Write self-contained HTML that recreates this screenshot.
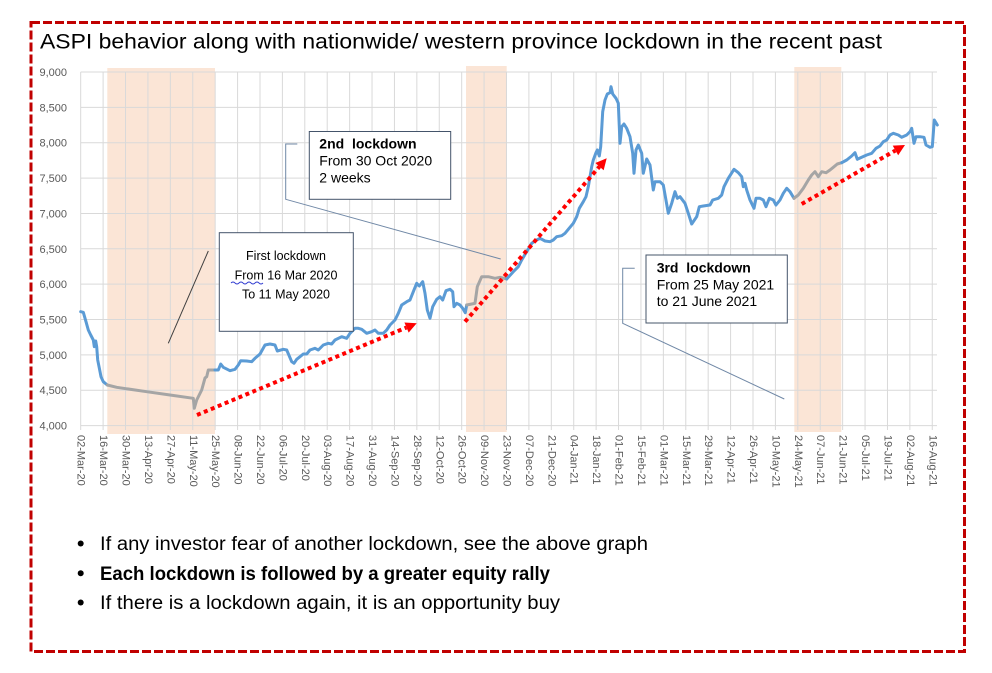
<!DOCTYPE html>
<html>
<head>
<meta charset="utf-8">
<style>
html,body{margin:0;padding:0;background:#fff;}
svg{display:block;}
text{font-family:"Liberation Sans",Arial,sans-serif;}
</style>
</head>
<body>
<svg width="992" height="673" viewBox="0 0 992 673" xmlns="http://www.w3.org/2000/svg">
<rect x="0" y="0" width="992" height="673" fill="#fff"/>

<!-- lockdown shading -->
<rect x="107.3" y="68" width="107.7" height="366" fill="#FBE5D6"/>
<rect x="466" y="66" width="40.7" height="366" fill="#FBE5D6"/>
<rect x="794.3" y="67" width="47" height="365" fill="#FBE5D6"/>

<!-- gridlines -->
<g stroke="#D9D9D9" stroke-width="1" fill="none">
<path d="M80.7 72H937M80.7 107.36H937M80.7 142.72H937M80.7 178.08H937M80.7 213.44H937M80.7 248.8H937M80.7 284.16H937M80.7 319.52H937M80.7 354.88H937M80.7 390.24H937M80.7 425.6H937"/>
<path d="M80.7 72V430M103.11 72V430M125.52 72V430M147.93 72V430M170.34 72V430M192.75 72V430M215.16 72V430M237.57 72V430M259.98 72V430M282.39 72V430M304.8 72V430M327.21 72V430M349.62 72V430M372.03 72V430M394.44 72V430M416.85 72V430M439.26 72V430M461.67 72V430M484.08 72V430M506.49 72V430M528.9 72V430M551.31 72V430M573.72 72V430M596.13 72V430M618.54 72V430M640.95 72V430M663.36 72V430M685.77 72V430M708.18 72V430M730.59 72V430M753 72V430M775.41 72V430M797.82 72V430M820.23 72V430M842.64 72V430M865.05 72V430M887.46 72V430M909.87 72V430M932.28 72V430"/>
</g>

<!-- y labels -->
<g font-size="11" fill="#595959" text-anchor="end">
<text x="67" y="76">9,000</text>
<text x="67" y="111.4">8,500</text>
<text x="67" y="146.7">8,000</text>
<text x="67" y="182.1">7,500</text>
<text x="67" y="217.4">7,000</text>
<text x="67" y="252.8">6,500</text>
<text x="67" y="288.2">6,000</text>
<text x="67" y="323.5">5,500</text>
<text x="67" y="358.9">5,000</text>
<text x="67" y="394.2">4,500</text>
<text x="67" y="429.6">4,000</text>
</g>

<!-- x labels -->
<g font-size="11" fill="#595959" dominant-baseline="central">
<text transform="translate(80.7,435) rotate(90)">02-Mar-20</text>
<text transform="translate(103.11,435) rotate(90)">16-Mar-20</text>
<text transform="translate(125.52,435) rotate(90)">30-Mar-20</text>
<text transform="translate(147.93,435) rotate(90)">13-Apr-20</text>
<text transform="translate(170.34,435) rotate(90)">27-Apr-20</text>
<text transform="translate(192.75,435) rotate(90)">11-May-20</text>
<text transform="translate(215.16,435) rotate(90)">25-May-20</text>
<text transform="translate(237.57,435) rotate(90)">08-Jun-20</text>
<text transform="translate(259.98,435) rotate(90)">22-Jun-20</text>
<text transform="translate(282.39,435) rotate(90)">06-Jul-20</text>
<text transform="translate(304.8,435) rotate(90)">20-Jul-20</text>
<text transform="translate(327.21,435) rotate(90)">03-Aug-20</text>
<text transform="translate(349.62,435) rotate(90)">17-Aug-20</text>
<text transform="translate(372.03,435) rotate(90)">31-Aug-20</text>
<text transform="translate(394.44,435) rotate(90)">14-Sep-20</text>
<text transform="translate(416.85,435) rotate(90)">28-Sep-20</text>
<text transform="translate(439.26,435) rotate(90)">12-Oct-20</text>
<text transform="translate(461.67,435) rotate(90)">26-Oct-20</text>
<text transform="translate(484.08,435) rotate(90)">09-Nov-20</text>
<text transform="translate(506.49,435) rotate(90)">23-Nov-20</text>
<text transform="translate(528.9,435) rotate(90)">07-Dec-20</text>
<text transform="translate(551.31,435) rotate(90)">21-Dec-20</text>
<text transform="translate(573.72,435) rotate(90)">04-Jan-21</text>
<text transform="translate(596.13,435) rotate(90)">18-Jan-21</text>
<text transform="translate(618.54,435) rotate(90)">01-Feb-21</text>
<text transform="translate(640.95,435) rotate(90)">15-Feb-21</text>
<text transform="translate(663.36,435) rotate(90)">01-Mar-21</text>
<text transform="translate(685.77,435) rotate(90)">15-Mar-21</text>
<text transform="translate(708.18,435) rotate(90)">29-Mar-21</text>
<text transform="translate(730.59,435) rotate(90)">12-Apr-21</text>
<text transform="translate(753,435) rotate(90)">26-Apr-21</text>
<text transform="translate(775.41,435) rotate(90)">10-May-21</text>
<text transform="translate(797.82,435) rotate(90)">24-May-21</text>
<text transform="translate(820.23,435) rotate(90)">07-Jun-21</text>
<text transform="translate(842.64,435) rotate(90)">21-Jun-21</text>
<text transform="translate(865.05,435) rotate(90)">05-Jul-21</text>
<text transform="translate(887.46,435) rotate(90)">19-Jul-21</text>
<text transform="translate(909.87,435) rotate(90)">02-Aug-21</text>
<text transform="translate(932.28,435) rotate(90)">16-Aug-21</text>
</g>

<!-- series -->
<g fill="none" stroke-width="3" stroke-linejoin="round" stroke-linecap="round">
<polyline stroke="#5B9BD5" points="80.7,311.7 83.3,312.3 86,321.7 88.3,330 90.7,335 93.3,340 94.3,346.7 95.7,341 96.7,346.7 97.7,360 99.3,368 101,376.7 103.3,381.7 107.3,385"/>
<polyline stroke="#A5A5A5" points="107.3,385 116.7,387.3 146.7,391.7 170,395 193.3,398.3 194.3,408.3 196.7,400 201.7,390 205,378 206.7,376.7 208.3,370 211.7,370 215,370"/>
<polyline stroke="#5B9BD5" points="215,370 218.3,370 220.7,364 223.3,367.3 230,370.7 235,369.3 238.3,365 240.7,360.7 246.7,361 251.7,361.7 255,358.3 260,354 265,345 270,344 275,345 277.3,351 283.3,349.3 286.7,350 291.7,361.7 294,363.3 296.7,359.3 300,356.7 303.3,354 306.7,354 310,350 315,348.3 318.3,350 323.3,345 328.3,343.3 331.7,344 335,340 341.7,336.7 346.7,338.3 350,333.3 355,328.3 358.3,328.3 361.7,329.3 366.7,333.3 371.7,331.7 375,330 378.3,333.3 383.3,333.3 386.7,330 390,325 395,320 398.3,313.3 401.7,305 406.7,301.7 410,300 413.3,291.7 416.7,283.3 419.3,286 422.7,281.7 425,293.3 427.3,310 430,318.3 432.7,306.7 436.7,299.3 440,296.7 442.7,300 446,290.7 450,289.3 452.7,291.7 454,306.7 456.7,303.3 460,305 462.7,308.3 465.3,312.7 466.7,305"/>
<polyline stroke="#A5A5A5" points="466.7,305 471.7,304 475,303.3 477.3,286.7 481.7,276.7 488.3,276.7 495,278.3 500,277.3 506.7,279"/>
<polyline stroke="#5B9BD5" points="506.7,279 513.3,271.7 518.3,266.7 521.7,260 526.7,251.7 531.7,243.3 536.7,240 540,238.3 545,241 550,241.7 553.3,240 556.7,236.7 561.7,235.7 565,233.3 568.3,229.3 573.3,223.3 576.7,216.7 579.3,208.3 583.3,201.7 586,196.7 588.3,186.7 590,176.7 591.7,166.7 593.3,160 596,152.7 597.3,150 599.3,156 600.7,146.7 602.7,111.7 605,100 607.3,94 610,92.7 611,86.7 612.7,94 616,98.3 618.3,103.3 620,143.3 621.7,126.7 624,124 626.7,128.3 630,136.7 632.7,153.3 634,173.3 636,150 638.3,145 641.7,153.3 643.3,173.3 646.7,159 650,165 653.3,190 655,181.7 660,181.7 663.3,185 668.3,213.3 671.7,203.3 675,191.7 677.3,198.3 680,196.7 685,203.3 688.3,213.3 691.7,224 696.7,216.7 699.3,206.7 703.3,206 710,205 712.7,200 718.3,198.3 721.7,195 724,186.7 728.3,178.3 734,169.3 738.3,172.7 741.7,176.7 743.3,186.7 745,183.3 746.7,190 750,200 754,208.3 756,198.3 760,198.3 763.3,200 766,206.7 769.3,198.3 773.3,200 776,205 780,200 783.3,193.3 786.7,188.3 790,191.7 794,198.3"/>
<polyline stroke="#A5A5A5" points="794,198.3 798.3,195 803.3,188.3 808.3,180 811.7,175 815,171.7 818.3,176.7 821.7,171.7 826,172.7 830,170 833.3,167.3 837.3,164 841.7,162.7"/>
<polyline stroke="#5B9BD5" points="841.7,162.7 846.7,160 851.7,156 855,152.7 857.3,159.3 861.7,157.3 866.7,155 871.7,153.3 876,148.3 880,146 883.3,141.7 886.7,140 890,135 893.3,133.3 898.3,135 901.7,137.3 906.7,135 910,131.7 911.7,128.3 914,143.3 916,136.7 920,136.7 924,137.3 926,145 930,147.3 932.3,146.7 934.3,120 937.3,125"/>
</g>

<!-- red dotted arrows -->
<g stroke="#FF0000" stroke-width="4" stroke-dasharray="4 3.5" fill="none">
<line x1="197" y1="415" x2="406.5" y2="327.5"/>
<line x1="465" y1="321.7" x2="599.5" y2="166.6"/>
<line x1="801.7" y1="204" x2="895.4" y2="150.5"/>
</g>
<g fill="#FF0000">
<polygon points="416.7,323.3 408.67,332.62 404.43,322.46"/>
<polygon points="606.7,158.3 603.65,170.2 595.35,163"/>
<polygon points="905,145 898.18,155.22 892.72,145.68"/>
</g>

<!-- connectors -->
<g fill="none" stroke-width="1">
<line x1="208.3" y1="251" x2="168.3" y2="343.3" stroke="#404040"/>
<polyline points="297.3,144 285.7,144 285.7,199.3 500.7,259" stroke="#7088A6"/>
<polyline points="634.7,268.3 622.7,268.3 622.7,323.3 784.3,399" stroke="#7088A6"/>
</g>

<!-- annotation boxes -->
<rect x="219.3" y="232.7" width="134" height="98.6" fill="#fff" stroke="#44546A" stroke-width="1"/>
<g font-size="12.5" fill="#000" text-anchor="middle">
<text x="286" y="260">First lockdown</text>
<text x="286" y="279.3">From 16 Mar 2020</text>
<text x="286" y="298.3">To 11 May 2020</text>
</g>
<path d="M231 283 q2 -2 4 0 t4 0 t4 0 t4 0 t4 0 t4 0 t4 0 t4 0" stroke="#2E3AD0" stroke-width="0.9" fill="none"/>

<rect x="309.3" y="131.5" width="141.4" height="67.8" fill="#fff" stroke="#44546A" stroke-width="1"/>
<g font-size="14" fill="#000">
<text x="319.3" y="148.3" font-weight="bold" style="white-space:pre">2nd  lockdown</text>
<text x="319.3" y="165.7">From 30 Oct 2020</text>
<text x="319.3" y="182.3">2 weeks</text>
</g>

<rect x="646" y="255" width="141.3" height="68" fill="#fff" stroke="#44546A" stroke-width="1"/>
<g font-size="14" fill="#000">
<text x="656.7" y="272.7" font-weight="bold" style="white-space:pre">3rd  lockdown</text>
<text x="656.7" y="289.3">From 25 May 2021</text>
<text x="656.7" y="306">to 21 June 2021</text>
</g>

<!-- title -->
<text x="40" y="48.5" font-size="21" fill="#000" textLength="842" lengthAdjust="spacingAndGlyphs">ASPI behavior along with nationwide/ western province lockdown in the recent past</text>

<!-- bullets -->
<g fill="#000">
<circle cx="80.7" cy="543.5" r="3"/>
<circle cx="80.7" cy="573.3" r="3"/>
<circle cx="80.7" cy="602.5" r="3"/>
</g>
<g font-size="19" fill="#000">
<text x="100" y="550" textLength="548" lengthAdjust="spacingAndGlyphs">If any investor fear of another lockdown, see the above graph</text>
<text x="100" y="580" font-weight="bold" textLength="450" lengthAdjust="spacingAndGlyphs">Each lockdown is followed by a greater equity rally</text>
<text x="100" y="609" textLength="460" lengthAdjust="spacingAndGlyphs">If there is a lockdown again, it is an opportunity buy</text>
</g>

<!-- dashed border -->
<rect x="31" y="22.5" width="933.5" height="629" fill="none" stroke="#C00000" stroke-width="3" stroke-dasharray="9 3"/>
</svg>
</body>
</html>
